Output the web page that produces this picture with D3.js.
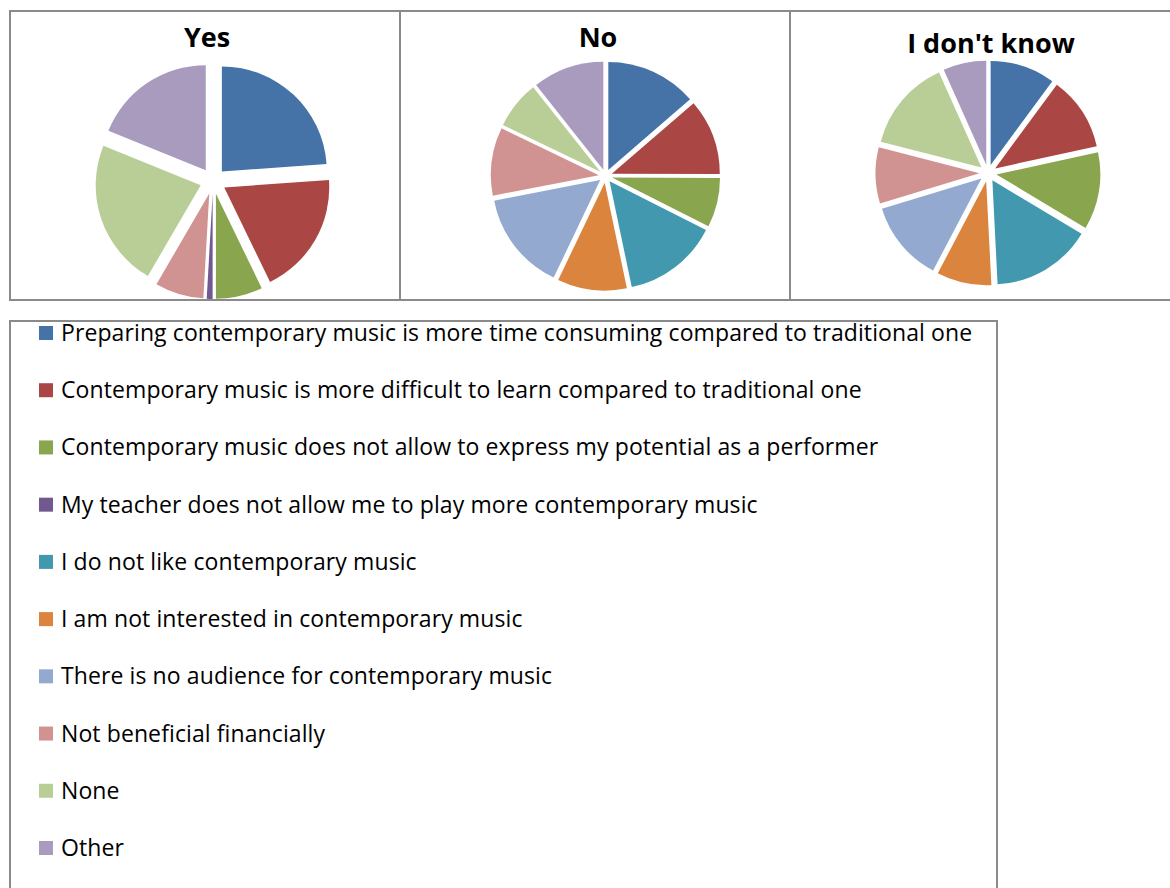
<!DOCTYPE html>
<html>
<head>
<meta charset="utf-8">
<script src="https://cdn.jsdelivr.net/npm/d3@7"></script>
<style>
  body { margin: 0; background: #fff; }
  svg { display: block; }
</style>
</head>
<body>
<div id="chart"></div>
<script>
// categories (legend order = slice order)
const categories = [
  "Preparing contemporary music is more time consuming compared to traditional one",
  "Contemporary music is more difficult to learn compared to traditional one",
  "Contemporary music does not allow to express my potential as a performer",
  "My teacher does not allow me to play more contemporary music",
  "I do not like contemporary music",
  "I am not interested in contemporary music",
  "There is no audience for contemporary music",
  "Not beneficial financially",
  "None",
  "Other"
];
const panelTitles = ["Yes", "No", "I don't know"];
// shares in %
const yesValues = [23.9, 19.0, 7.2, 0.9, 0, 0, 0, 7.5, 22.8, 18.9];
const noValues  = [13.7, 11.4, 7.4, 0, 14.3, 10.4, 14.9, 10.2, 7.2, 10.7];
const idkValues = [10.1, 11.5, 12.0, 0, 15.6, 8.5, 12.6, 8.7, 14.3, 6.7];

const colors = ['#4572A7', '#AA4643', '#89A54E', '#71588F', '#4198AF',
                '#DB843D', '#93A9CF', '#D19392', '#B9CD96', '#A99BBD'];

const W = 1170, H = 888;
const borderColor = '#8a8a8a';
const font = '"Open Sans", Lato, sans-serif';

let svg = d3.select('#chart').append('svg')
  .attr('width', W).attr('height', H);

// top panels
let panels = [
  { title: panelTitles[0], values: yesValues, x0: 10, x1: 400, tx: 207, cx: 213, cy: 181, r: 105, explode: 13, ty: 47 },
  { title: panelTitles[1], values: noValues, x0: 400, x1: 790, tx: 598, cx: 605.5, cy: 176, r: 108, explode: 6.7, ty: 47 },
  { title: panelTitles[2], values: idkValues, x0: 790, x1: 1180, tx: 991, cx: 988, cy: 173, r: 104, explode: 8.5, ty: 53 }
];

let pie = d3.pie().value(d => d).sort(null);

panels.forEach((p) => {
  svg.append('rect')
    .attr('x', p.x0).attr('y', 11)
    .attr('width', p.x1 - p.x0).attr('height', 289)
    .attr('fill', 'none')
    .attr('stroke', borderColor)
    .attr('stroke-width', 2);

  svg.append('text')
    .attr('x', p.tx)
    .attr('y', p.ty)
    .attr('text-anchor', 'middle')
    .style('font-family', font)
    .style('font-weight', 'bold')
    .style('font-size', '27px')
    .attr('fill', '#000')
    .text(p.title);

  let arc = d3.arc().innerRadius(0).outerRadius(p.r);
  let g = svg.append('g').attr('transform', 'translate(' + p.cx + ',' + p.cy + ')');

  g.selectAll('path')
    .data(pie(p.values).filter(d => d.value > 0))
    .enter()
    .append('path')
    .attr('d', arc)
    .attr('fill', d => colors[d.index])
    .attr('transform', (d) => {
      let mid = (d.startAngle + d.endAngle) / 2;
      return 'translate(' + (p.explode * Math.sin(mid)) + ',' + (-p.explode * Math.cos(mid)) + ')';
    });
});

// legend box
svg.append('path')
  .attr('d', 'M10,' + (H + 5) + 'V321H997V' + (H + 5))
  .attr('fill', 'none')
  .attr('stroke', borderColor)
  .attr('stroke-width', 2);

let rowY = d3.scaleLinear().domain([0, 9]).range([333, 848]);

let leg = svg.append('g').selectAll('g')
  .data(categories)
  .enter()
  .append('g')
  .attr('transform', (d, i) => 'translate(0,' + rowY(i) + ')');

leg.append('rect')
  .attr('x', 39).attr('y', -7)
  .attr('width', 14).attr('height', 14)
  .attr('fill', (d, i) => colors[i]);

leg.append('text')
  .attr('x', 61).attr('y', 8)
  .style('font-family', font)
  .style('font-size', '23px')
  .style('letter-spacing', '0.1px')
  .attr('fill', '#000')
  .text(d => d);
</script>
</body>
</html>
